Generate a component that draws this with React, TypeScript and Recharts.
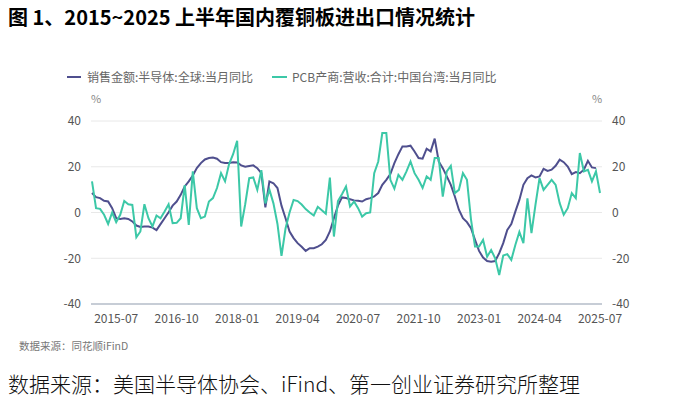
import React from "react";
import { LineChart, Line, XAxis, YAxis, CartesianGrid } from "recharts";

// monthly categories, 2015-01 .. 2025-07
const START_YEAR = 2015;
const MONTH_COUNT = 127;
const months: string[] = [];
for (let k = 0; k < MONTH_COUNT; k++) {
  const y = START_YEAR + Math.floor(k / 12);
  const m = (k % 12) + 1;
  months.push(`${y}-${m < 10 ? "0" + m : m}`);
}

const tickLabels = ["2015-07", "2016-10", "2018-01", "2019-04", "2020-07", "2021-10", "2023-01", "2024-04", "2025-07"];
const yTicks = [-40, -20, 0, 20, 40];

const semiName = "销售金额:半导体:全球:当月同比";
const pcbName = "PCB产商:营收:合计:中国台湾:当月同比";

// 销售金额:半导体:全球:当月同比 (%), 2015-01 .. 2025-06
const semiYoY = [
  8.5, 6.7, 6.3, 5.1, 4.8, 1.9, -2.5, -2.8, -2.5, -2.8, -3.9, -5.7,
  -6.3, -6.1, -6.1, -6.6, -7.7, -5.1, -2.5, 0.1, 3, 4.8, 7.7, 11.4,
  13.6, 16.2, 19.4, 21.6, 23.2, 23.8, 24, 23.5, 22, 21.6, 21.6, 22,
  21.9, 20.6, 20, 20.3, 20.6, 19.4, 17.2, 2.2, 13.6, 12.8, 10.7, 3,
  -2.5, -8.3, -11.2, -13.4, -15, -16.8, -15.6, -15.6, -14.9, -13.9, -12, -8.3,
  -2.5, 3, 6.6, 6.3, 5.8, 5.3, 5.1, 4.8, 5.8, 6.3, 7, 8.5,
  12.1, 14.3, 16.8, 21.6, 25.5, 28.9, 28.9, 29.2, 26.7, 23.8, 23.5, 27.9,
  26.7, 32.3, 22.3, 19.4, 15.8, 12.1, 7, 1.2, -2.5, -4.2, -6.9, -12,
  -16.8, -19.7, -21.2, -21.5, -21.2, -17.8, -13.4, -7.6, -5.1, 0.4, 5.5, 12.1,
  15, 16.2, 15.3, 15.8, 19.1, 18.2, 18.7, 20.4, 23.1, 22, 20.1, 16.8,
  17.7, 17.2, 18.7, 22.6, 19.7, 19.4,
];

// PCB产商:营收:合计:中国台湾:当月同比 (%), 2015-01 .. 2025-07
const pcbYoY = [
  13.6, 1.9, 1.6, -1, -5, 0, -4.2, -1, 5, 3.6, 3.3, -10.8,
  -8.3, 3.6, -2.5, -6.1, -1.3, -2.5, 0.4, 3.6, -4.7, -4.5, -2.5, 12,
  -5.4, 18, 1.9, -2.5, -1.8, 4.8, 6.3, 10.7, 17.2, 13.6, 21.2, 25.5,
  31.4, -6.1, 3.6, 15, 15.3, 9.9, 18.5, 4, 10, 4, -5, -19,
  -7, 0, 5.5, 5, 3.5, 1.5, 0, -1.3, 2.5, 1, -0.5, 15.3,
  -10.5, 5, 8, 11.4, 2.6, 4.8, 1.9, -1.8, -0.3, 0, 17.2, 22.3,
  34.7, 34.7, 14.3, 10.4, 16.5, 14.3, 18, 22.3, 17.2, 14.3, 10.7, 15.8,
  14.3, 23.8, 23.8, 6.9, 18, 20.4, 8.5, 9.9, 17.2, 14.3, -3, -14.9,
  -14.9, -12, -19.3, -16.4, -20, -27.3, -18.8, -18.2, -20.7, -14.2, -8.5, -13.4,
  6.2, -9, 3.4, 15, 9.9, 12.1, 14.3, 12.1, 4.1, -1, 1.9, 8.5,
  6.3, 26, 18, 18.7, 13.6, 18, 8.5,
];

const data = months.map((month, i) => ({
  i,
  month,
  semi: i < semiYoY.length ? semiYoY[i] : null,
  pcb: i < pcbYoY.length ? pcbYoY[i] : null,
}));

const tickIdx = tickLabels.map((l) => months.indexOf(l));

const BLUE = "#4f4f8e";
const GREEN = "#3cc8a7";
const uiFont = '"Noto Sans CJK SC", "Noto Sans", sans-serif';

export default function App() {
  const tickStyle = { fill: "#555", fontSize: 12, fontFamily: uiFont };
  return (
    <div style={{ position: "absolute", left: 0, top: 0, width: 692, height: 398, background: "#fff", fontFamily: uiFont }}>
      <div style={{ position: "absolute", left: 8, top: 4, fontSize: 20, fontWeight: 700, color: "#000", whiteSpace: "nowrap", lineHeight: "26px" }}>
        图 1、2015~2025 上半年国内覆铜板进出口情况统计
      </div>

      {/* legend */}
      <div style={{ position: "absolute", left: 67, top: 68, display: "flex", alignItems: "center", fontSize: 12, color: "#666", whiteSpace: "nowrap", lineHeight: "18px" }}>
        <svg width={14} height={4} style={{ marginRight: 6 }}>
          <line x1={0} y1={2} x2={14} y2={2} stroke={BLUE} strokeWidth={2} />
        </svg>
        <span>{semiName}</span>
        <svg width={15} height={4} style={{ marginLeft: 19, marginRight: 5 }}>
          <line x1={0} y1={2} x2={15} y2={2} stroke={GREEN} strokeWidth={2} />
        </svg>
        <span>{pcbName}</span>
      </div>
      <div style={{ position: "absolute", left: 91, top: 90, fontSize: 11, color: "#888" }}>%</div>
      <div style={{ position: "absolute", left: 592, top: 90, fontSize: 11, color: "#888" }}>%</div>

      <div style={{ position: "absolute", left: 0, top: 0 }}>
        <LineChart width={692} height={398} data={data} margin={{ top: 121, right: 0, bottom: 64, left: 0 }}>
          <CartesianGrid vertical={false} stroke="#e8e8e8" />
          <XAxis
            type="number"
            dataKey="i"
            domain={[0, 126]}
            ticks={tickIdx}
            tickFormatter={(v: number) => months[v]}
            height={30}
            padding={{ left: 1, right: 2 }}
            tickLine={false}
            tickMargin={4}
            axisLine={{ stroke: "#b9c0cc", strokeWidth: 1.5 }}
            tick={tickStyle}
            interval={0}
          />
          <YAxis
            domain={[-40, 40]}
            ticks={yTicks}
            width={91}
            tickLine={false}
            axisLine={false}
            tickMargin={4}
            tick={tickStyle}
            interval={0}
          />
          <YAxis
            yAxisId="r"
            orientation="right"
            domain={[-40, 40]}
            ticks={yTicks}
            width={90}
            tickLine={false}
            axisLine={false}
            tickMargin={4}
            tick={{ ...tickStyle, textAnchor: "start" }}
            interval={0}
          />
          <Line type="linear" dataKey="semi" stroke={BLUE} strokeWidth={2} dot={false} isAnimationActive={false} connectNulls={false} />
          <Line yAxisId="r" type="linear" dataKey="pcb" stroke={GREEN} strokeWidth={2} dot={false} isAnimationActive={false} />
        </LineChart>
      </div>

      <div style={{ position: "absolute", left: 19, top: 338, fontSize: 10.5, color: "#777", whiteSpace: "nowrap" }}>
        数据来源：同花顺iFinD
      </div>
      <div style={{ position: "absolute", left: 8, top: 368, fontSize: 21, fontWeight: 300, color: "#111", whiteSpace: "nowrap", lineHeight: "30px" }}>
        数据来源：美国半导体协会、iFind、第一创业证券研究所整理
      </div>
    </div>
  );
}
